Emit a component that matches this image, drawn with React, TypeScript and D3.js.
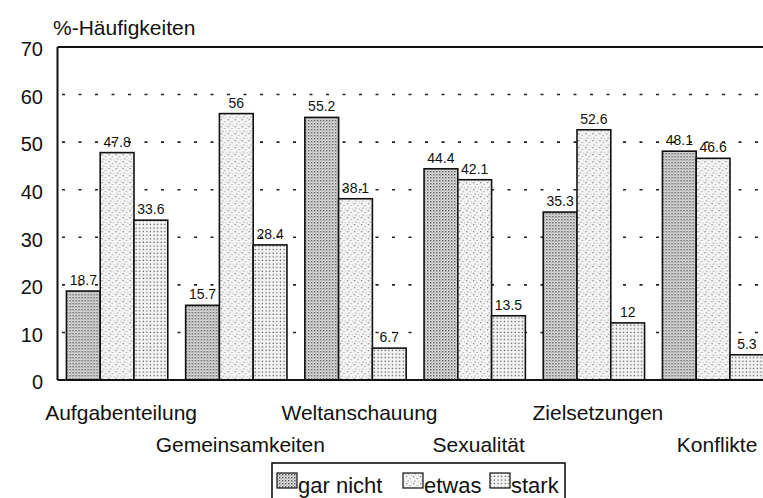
import React from "react";
import * as d3 from "d3";

const categories = ["Aufgabenteilung", "Gemeinsamkeiten", "Weltanschauung", "Sexualität", "Zielsetzungen", "Konflikte"];
const seriesNames = ["gar nicht", "etwas", "stark"];
const garNicht = [18.7, 15.7, 55.2, 44.4, 35.3, 48.1];
const etwas = [47.8, 56, 38.1, 42.1, 52.6, 46.6];
const stark = [33.6, 28.4, 6.7, 13.5, 12, 5.3];
const yTicks = [0, 10, 20, 30, 40, 50, 60, 70];
const yTitle = "%-Häufigkeiten";

const seriesValues = [garNicht, etwas, stark];
const patternIds = ["patGar", "patEtwas", "patStark"];
const FONT = "'Liberation Sans', Arial, Helvetica, sans-serif";

export default function App() {
  const W = 763;
  const H = 498;
  const x0 = d3.scaleBand<string>().domain(categories).range([57.5, 772.7]).paddingInner(0.15).paddingOuter(0.075);
  const x1 = d3.scaleBand<string>().domain(seriesNames).range([0, x0.bandwidth()]);
  const y = d3.scaleLinear().domain([0, 70]).range([380, 47]);

  const fmt = (v: number) => String(v);

  return (
    <div style={{ position: "absolute", left: 0, top: 0 }}>
      <svg width={W} height={H} style={{ display: "block", background: "#fff" }} fontFamily={FONT}>
        <defs>
          <pattern id="patGar" width="3" height="3" patternUnits="userSpaceOnUse">
            <rect width="3" height="3" fill="#e4e4e4" />
            <rect x="0" y="0" width="1.4" height="1.4" fill="#555" />
            <rect x="1.5" y="1.5" width="1.1" height="1.1" fill="#8a8a8a" />
          </pattern>
          <pattern id="patEtwas" width="7" height="7" patternUnits="userSpaceOnUse">
            <rect width="7" height="7" fill="#f4f4f4" />
            <rect x="0" y="0" width="1.3" height="1.3" fill="#8a8a8a" />
            <rect x="3.5" y="2" width="1.2" height="1.2" fill="#a5a5a5" />
            <rect x="1.5" y="4.5" width="1.2" height="1.2" fill="#9a9a9a" />
            <rect x="5" y="5.5" width="1" height="1" fill="#b5b5b5" />
          </pattern>
          <pattern id="patStark" width="3.6" height="3.6" patternUnits="userSpaceOnUse">
            <rect width="3.6" height="3.6" fill="#f6f6f6" />
            <rect x="0.6" y="0.6" width="1.3" height="1.3" fill="#555" />
          </pattern>
        </defs>

        {/* title */}
        <text x={53} y={35} fontSize={21} fill="#111">{yTitle}</text>

        {/* grid lines */}
        {yTicks.filter((t) => t > 0 && t < 70).map((t) => (
          <line key={"g" + t} x1={62} x2={W} y1={y(t)} y2={y(t)} stroke="#222" strokeWidth={1.6} strokeDasharray="3,13.5" />
        ))}

        {/* y tick labels */}
        {yTicks.map((t) => (
          <text key={"t" + t} x={43} y={y(t) + 4} fontSize={20} textAnchor="end" dominantBaseline="middle" fill="#111">
            {t}
          </text>
        ))}

        {/* bars */}
        {categories.map((c, i) => (
          <g key={c} transform={`translate(${x0(c)},0)`}>
            {seriesNames.map((s, j) => {
              const v = seriesValues[j][i];
              const bx = x1(s) as number;
              return (
                <g key={s}>
                  <rect x={bx} y={y(v)} width={x1.bandwidth()} height={y(0) - y(v)} fill={`url(#${patternIds[j]})`} stroke="#111" strokeWidth={1.6} />
                  <text x={bx + x1.bandwidth() / 2} y={y(v) - 6} fontSize={14} textAnchor="middle" fill="#111">
                    {fmt(v)}
                  </text>
                </g>
              );
            })}
          </g>
        ))}

        {/* axes / frame */}
        <line x1={57.5} x2={W} y1={y(70)} y2={y(70)} stroke="#111" strokeWidth={2} />
        <line x1={57.5} x2={57.5} y1={y(70)} y2={y(0)} stroke="#111" strokeWidth={2} />
        <line x1={57.5} x2={W} y1={y(0)} y2={y(0)} stroke="#111" strokeWidth={2} />

        {/* category labels, alternating rows */}
        {categories.map((c, i) => (
          <text key={"c" + c} x={(x0(c) as number) + x0.bandwidth() / 2 + 4} y={i % 2 === 0 ? 420 : 452} fontSize={21} textAnchor="middle" fill="#111">
            {c}
          </text>
        ))}

        {/* legend */}
        <rect x={272} y={463} width={293} height={50} fill="#fff" stroke="#111" strokeWidth={1.6} />
        {seriesNames.map((s, j) => {
          const lx = [277, 403, 490][j];
          return (
            <g key={"l" + s}>
              <rect x={lx} y={473} width={20} height={15} fill={`url(#${patternIds[j]})`} stroke="#111" strokeWidth={1.2} />
              <text x={lx + 21} y={493} fontSize={22} fill="#111">{s}</text>
            </g>
          );
        })}
      </svg>
    </div>
  );
}
